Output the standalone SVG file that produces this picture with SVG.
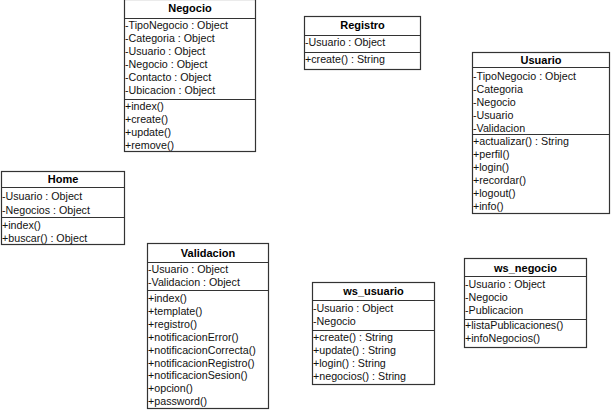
<svg xmlns="http://www.w3.org/2000/svg" width="614" height="410" viewBox="0 0 614 410">
<style>
.box{fill:#fff;stroke:#333;stroke-width:1.2}
.sep{stroke:#333;stroke-width:1.2}
.t{font-family:"Liberation Sans",Arial,sans-serif;font-size:11px;font-weight:bold;fill:#000;text-anchor:middle}
.m{font-family:"Liberation Sans",Arial,sans-serif;font-size:10.7px;fill:#111}
</style>
<rect width="614" height="410" fill="#fff"/>
<g id="connectors"></g>
<g id="Negocio">
<rect class="box" x="124.5" y="-0.5" width="131" height="152"/>
<line class="sep" x1="124.5" y1="18.5" x2="255.5" y2="18.5"/>
<line class="sep" x1="124.5" y1="99.5" x2="255.5" y2="99.5"/>
<text class="t" x="190" y="12">Negocio</text>
<text class="m" x="125" y="29">-TipoNegocio : Object</text>
<text class="m" x="125" y="42">-Categoria : Object</text>
<text class="m" x="125" y="55">-Usuario : Object</text>
<text class="m" x="125" y="68">-Negocio : Object</text>
<text class="m" x="125" y="81">-Contacto : Object</text>
<text class="m" x="125" y="94">-Ubicacion : Object</text>
<text class="m" x="125" y="110">+index()</text>
<text class="m" x="125" y="123">+create()</text>
<text class="m" x="125" y="136">+update()</text>
<text class="m" x="125" y="149">+remove()</text>
</g>
<g id="Registro">
<rect class="box" x="304.5" y="16.5" width="116" height="53"/>
<line class="sep" x1="304.5" y1="35.5" x2="420.5" y2="35.5"/>
<line class="sep" x1="304.5" y1="52.5" x2="420.5" y2="52.5"/>
<text class="t" x="362.5" y="29">Registro</text>
<text class="m" x="305" y="46">-Usuario : Object</text>
<text class="m" x="305" y="63">+create() : String</text>
</g>
<g id="Usuario">
<rect class="box" x="472.5" y="52.5" width="137" height="161"/>
<line class="sep" x1="472.5" y1="67.5" x2="609.5" y2="67.5"/>
<line class="sep" x1="472.5" y1="134.5" x2="609.5" y2="134.5"/>
<text class="t" x="541" y="64">Usuario</text>
<text class="m" x="473" y="80">-TipoNegocio : Object</text>
<text class="m" x="473" y="93">-Categoria</text>
<text class="m" x="473" y="106">-Negocio</text>
<text class="m" x="473" y="119">-Usuario</text>
<text class="m" x="473" y="132">-Validacion</text>
<text class="m" x="473" y="145">+actualizar() : String</text>
<text class="m" x="473" y="158">+perfil()</text>
<text class="m" x="473" y="171">+login()</text>
<text class="m" x="473" y="184">+recordar()</text>
<text class="m" x="473" y="197">+logout()</text>
<text class="m" x="473" y="210">+info()</text>
</g>
<g id="Home">
<rect class="box" x="1.5" y="171.5" width="123" height="73"/>
<line class="sep" x1="1.5" y1="187.5" x2="124.5" y2="187.5"/>
<line class="sep" x1="1.5" y1="217.5" x2="124.5" y2="217.5"/>
<text class="t" x="63" y="183">Home</text>
<text class="m" x="2" y="200">-Usuario : Object</text>
<text class="m" x="2" y="214">-Negocios : Object</text>
<text class="m" x="2" y="229">+index()</text>
<text class="m" x="2" y="242">+buscar() : Object</text>
</g>
<g id="Validacion">
<rect class="box" x="147.5" y="243.5" width="121" height="165"/>
<line class="sep" x1="147.5" y1="262.5" x2="268.5" y2="262.5"/>
<line class="sep" x1="147.5" y1="290.5" x2="268.5" y2="290.5"/>
<text class="t" x="208" y="257">Validacion</text>
<text class="m" x="148" y="273">-Usuario : Object</text>
<text class="m" x="148" y="286">-Validacion : Object</text>
<text class="m" x="148" y="302">+index()</text>
<text class="m" x="148" y="315">+template()</text>
<text class="m" x="148" y="328">+registro()</text>
<text class="m" x="148" y="341">+notificacionError()</text>
<text class="m" x="148" y="354">+notificacionCorrecta()</text>
<text class="m" x="148" y="367">+notificacionRegistro()</text>
<text class="m" x="148" y="379">+notificacionSesion()</text>
<text class="m" x="148" y="392">+opcion()</text>
<text class="m" x="148" y="405">+password()</text>
</g>
<g id="ws_usuario">
<rect class="box" x="312.5" y="282.5" width="122" height="102"/>
<line class="sep" x1="312.5" y1="300.5" x2="434.5" y2="300.5"/>
<line class="sep" x1="312.5" y1="330.5" x2="434.5" y2="330.5"/>
<text class="t" x="373.5" y="295">ws_usuario</text>
<text class="m" x="313" y="312">-Usuario : Object</text>
<text class="m" x="313" y="325">-Negocio</text>
<text class="m" x="313" y="341">+create() : String</text>
<text class="m" x="313" y="354">+update() : String</text>
<text class="m" x="313" y="367">+login() : String</text>
<text class="m" x="313" y="380">+negocios() : String</text>
</g>
<g id="ws_negocio">
<rect class="box" x="464.5" y="258.5" width="122" height="89"/>
<line class="sep" x1="464.5" y1="276.5" x2="586.5" y2="276.5"/>
<line class="sep" x1="464.5" y1="319.5" x2="586.5" y2="319.5"/>
<text class="t" x="525.5" y="272">ws_negocio</text>
<text class="m" x="465" y="288">-Usuario : Object</text>
<text class="m" x="465" y="301">-Negocio</text>
<text class="m" x="465" y="314">-Publicacion</text>
<text class="m" x="465" y="329">+listaPublicaciones()</text>
<text class="m" x="465" y="342">+infoNegocios()</text>
</g>
</svg>
